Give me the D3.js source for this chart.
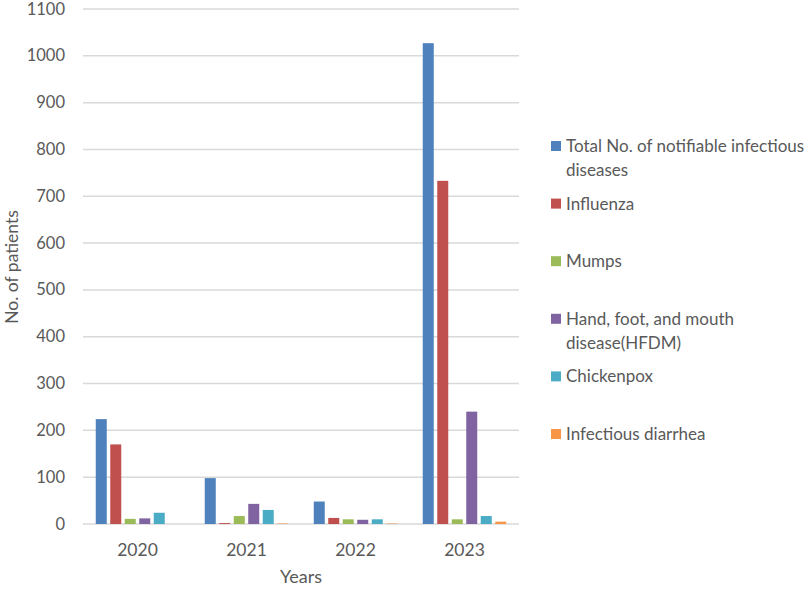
<!DOCTYPE html>
<html><head><meta charset="utf-8">
<script src="https://cdn.jsdelivr.net/npm/d3@7"></script>
<style>body{margin:0;background:#fff}svg text{font-family:Lato,"Open Sans",sans-serif;fill:#595959}</style>
</head><body>
<svg id="c" width="812" height="589"></svg>
<script>
const years = ["2020","2021","2022","2023"];
const seriesNames = ["Total No. of notifiable infectious diseases","Influenza","Mumps","Hand, foot, and mouth disease(HFDM)","Chickenpox","Infectious diarrhea"];
const legendLines = [["Total No. of notifiable infectious","diseases"],["Influenza"],["Mumps"],["Hand, foot, and mouth","disease(HFDM)"],["Chickenpox"],["Infectious diarrhea"]];
const colors = ["#4F81BD","#C0504D","#9BBB59","#8064A2","#4BACC6","#F79646"];
const totalVals = [224, 98, 48, 1027];
const influenzaVals = [170, 2, 13, 733];
const mumpsVals = [11, 17, 10, 10];
const hfdmVals = [12, 43, 9, 240];
const chickenpoxVals = [24, 30, 10, 17];
const diarrheaVals = [0, 1, 1, 5];
const yTicks = [0,100,200,300,400,500,600,700,800,900,1000,1100];
const seriesVals = [totalVals, influenzaVals, mumpsVals, hfdmVals, chickenpoxVals, diarrheaVals];

const svg = d3.select("#c");
const pL = 83, pR = 519, pT = 9, pB = 524;
const y = d3.scaleLinear().domain([0,1100]).range([pB, pT]);
const x0 = d3.scaleBand().domain(years).range([pL, pR]).padding(0);
const bw = x0.bandwidth();
const x1 = d3.scaleBand().domain(d3.range(6)).range([bw/2-41.75, bw/2+41.75]).paddingInner(0.241).paddingOuter(0);

// gridlines
svg.append("g").selectAll("line").data(yTicks).join("line")
  .attr("x1", pL).attr("x2", pR)
  .attr("y1", d=>y(d)).attr("y2", d=>y(d))
  .attr("stroke","#d9d9d9").attr("stroke-width",1.5);

// y labels
svg.append("g").selectAll("text").data(yTicks).join("text")
  .attr("x", 65).attr("y", d=>y(d)+5.5).attr("text-anchor","end")
  .attr("font-size",16.5).text(d=>d);

// bars
const g = svg.append("g");
years.forEach((yr, i) => {
  g.append("g").attr("transform",`translate(${x0(yr)},0)`)
    .selectAll("rect").data(seriesVals.map((s,k)=>({k, v:s[i]}))).join("rect")
    .attr("x", d=>x1(d.k)).attr("width", x1.bandwidth())
    .attr("y", d=>y(d.v)).attr("height", d=>pB - y(d.v))
    .attr("fill", d=>colors[d.k]);
});

// x labels
svg.append("g").selectAll("text").data(years).join("text")
  .attr("x", d=>x0(d)+bw/2).attr("y", 556).attr("text-anchor","middle")
  .attr("font-size",17.5).text(d=>d);

svg.append("text").attr("x",301).attr("y",583).attr("text-anchor","middle")
  .attr("font-size",18).text("Years");
svg.append("text").attr("transform","translate(18,267) rotate(-90)")
  .attr("text-anchor","middle").attr("font-size",17.5).text("No. of patients");

// legend
const lg = svg.append("g");
legendLines.forEach((lines, i) => {
  const cy = 146 + i*57.6;
  lg.append("rect").attr("x",551).attr("y",cy-5).attr("width",10).attr("height",10).attr("fill",colors[i]);
  lines.forEach((t, j) => {
    lg.append("text").attr("x",566).attr("y",cy+6+j*24).attr("font-size",17).text(t);
  });
});
</script>
</body></html>
